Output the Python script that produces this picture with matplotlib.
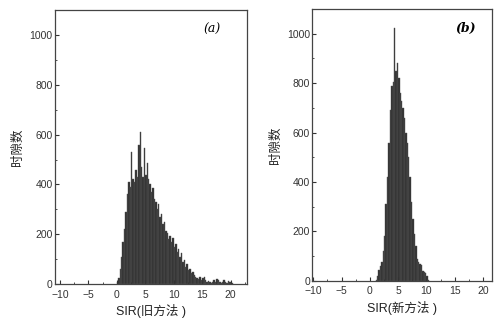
import numpy as np
import matplotlib
matplotlib.use("Agg")
import matplotlib.pyplot as plt
from matplotlib.ticker import MultipleLocator

plt.rcParams['font.family'] = ['Liberation Sans', 'Noto Sans CJK SC', 'DejaVu Sans']

# histogram bins (width 0.25), left edges and counts
BIN_W = 0.25

old_start = 0.0
old_counts = [10, 25, 60, 110, 170, 220, 290, 360, 410, 390,
              530, 420, 410, 460, 430, 560, 610, 470, 430, 545,
              440, 485, 420, 400, 370, 385, 340, 330, 300, 320,
              270, 280, 240, 250, 215, 205, 180, 195, 170, 185,
              150, 160, 130, 140, 110, 125, 90, 95, 70, 80,
              55, 60, 45, 50, 35, 30, 25, 20, 30, 15,
              25, 30, 15, 10, 12, 8, 5, 10, 15, 8,
              20, 15, 10, 5, 8, 15, 10, 5, 12, 8,
              5, 3]

new_start = 1.0
new_counts = [5, 20, 45, 60, 75, 120, 180, 310, 420, 560,
              690, 790, 805, 1025, 850, 880, 820, 760, 730, 700,
              660, 600, 560, 500, 420, 320, 250, 190, 140, 90,
              75, 70, 65, 40, 35, 30, 20, 5]

x_ticks = [-10, -5, 0, 5, 10, 15, 20]
y_ticks = [0, 200, 400, 600, 800, 1000]
y_label = "时隙数"
x_labels = ["SIR(旧方法 )", "SIR(新方法 )"]
panel_tags = ["(a)", "(b)"]

fig = plt.figure(figsize=(4.94, 3.24), dpi=100)
ax_a = fig.add_axes([0.111, 0.123, 0.389, 0.846])
ax_b = fig.add_axes([0.632, 0.133, 0.364, 0.839])


def draw_panel(ax, start, counts, xlim, xlabel, tag, tag_x, tag_weight):
    counts = np.array(counts)
    lefts = start + BIN_W * np.arange(len(counts))
    ax.bar(lefts, counts, width=BIN_W, align='edge', color='#2e2e2e',
           edgecolor='#555555', linewidth=0.3)
    ax.set_xlim(*xlim)
    ax.set_ylim(0, 1100)
    ax.set_xticks(x_ticks)
    ax.set_yticks(y_ticks)
    ax.xaxis.set_minor_locator(MultipleLocator(2.5))
    ax.yaxis.set_minor_locator(MultipleLocator(100))
    ax.tick_params(which='both', direction='in', labelsize=7.5, colors='#333333')
    ax.tick_params(axis='x', pad=4)
    ax.tick_params(axis='y', pad=1.5)
    ax.tick_params(which='major', length=3)
    ax.tick_params(which='minor', length=1.5)
    for s in ax.spines.values():
        s.set_color('#444444')
        s.set_linewidth(0.9)
    ax.set_xlabel(xlabel, fontsize=9, labelpad=3, color='#222222')
    ax.set_ylabel(y_label, fontsize=9, labelpad=4, color='#222222')
    ax.text(tag_x, 0.93, tag, transform=ax.transAxes, fontsize=9,
            family=['DejaVu Serif'], style='italic', weight=tag_weight,
            ha='center', va='center')


draw_panel(ax_a, old_start, old_counts, (-10.9, 22.9), x_labels[0],
           panel_tags[0], 0.82, 'normal')
draw_panel(ax_b, new_start, new_counts, (-10.2, 21.6), x_labels[1],
           panel_tags[1], 0.85, 'bold')

fig.savefig("out.png", dpi=100)
